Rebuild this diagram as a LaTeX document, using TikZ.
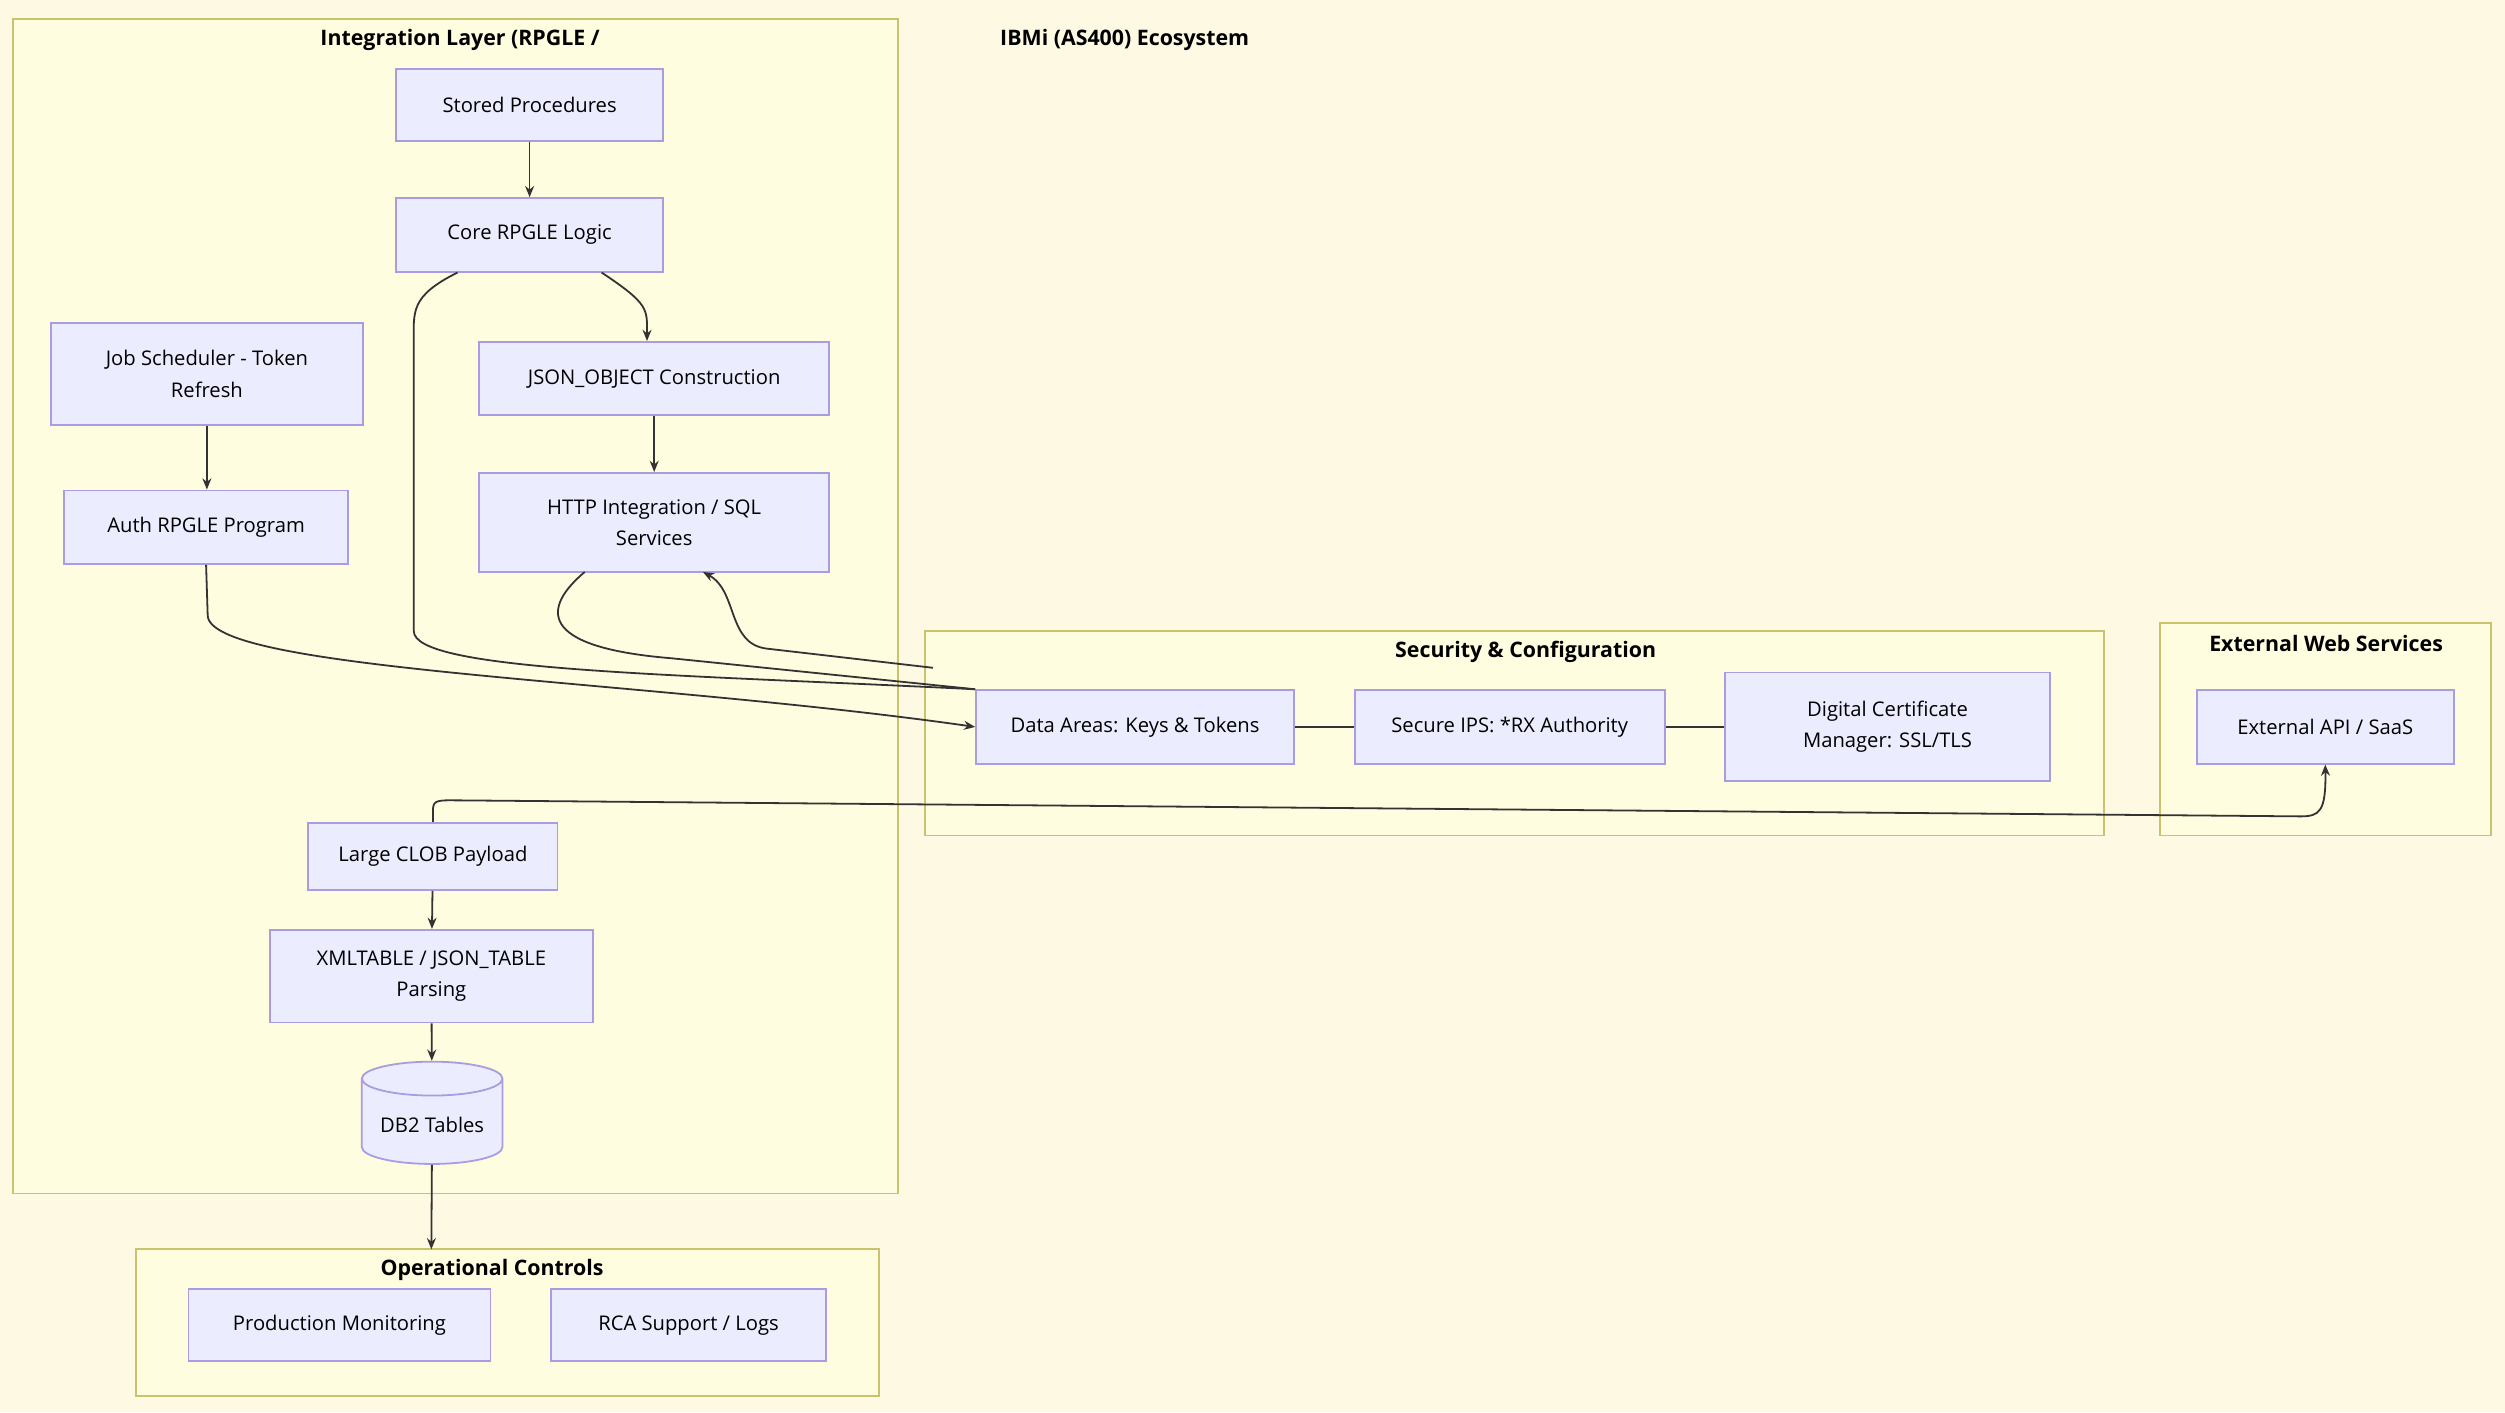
\documentclass[tikz,border=0pt]{standalone}
\usepackage{fontspec}
\setmainfont{Open Sans}
\usetikzlibrary{shapes}
\usetikzlibrary{arrows.meta}

\definecolor{boxfill}{HTML}{ECECFF}
\definecolor{boxline}{HTML}{A99CE0}
\definecolor{clusterfill}{HTML}{FFFDE0}
\definecolor{clusterline}{HTML}{C9C36E}
\definecolor{bgcream}{HTML}{FEF9E3}
\definecolor{edgecol}{HTML}{333333}

\tikzset{
  box/.style={draw=boxline, fill=boxfill, thick, align=center, inner sep=2pt,
    font=\fontsize{9}{14}\selectfont},
  cluster/.style={draw=clusterline, fill=clusterfill, thick},
  ctitle/.style={font=\fontsize{9.5}{12}\selectfont\bfseries},
  flow/.style={draw=edgecol, thick, -{Stealth[length=5pt,width=4pt]}},
  link/.style={draw=edgecol, thick}
}

\begin{document}
\begin{tikzpicture}[x=0.025cm, y=-0.025cm]
\fill [bgcream] (0,0) rectangle (1568,884);
\useasboundingbox (0,0) rectangle (1568,884);
% clusters
\draw [cluster] (8,12) rectangle (562,747);
\draw [cluster] (579,395) rectangle (1317,523);
\draw [cluster] (1352,390) rectangle (1559,523);
\draw [cluster] (85,782) rectangle (550,874);
\node [ctitle] (tint) at (288,25) {Integration Layer (RPGLE /};
\node [ctitle] (teco) at (704,25) {IBMi (AS400) Ecosystem};
\node [ctitle] (tsec) at (955,408) {Security \& Configuration};
\node [ctitle] (text) at (1456,403) {External Web Services};
\node [ctitle] (tops) at (308,795) {Operational Controls};

% integration layer
\node [box, minimum width=4.175cm, minimum height=1.125cm] (stored) at (331.5,65.5) {Stored Procedures};
\node [box, minimum width=4.175cm, minimum height=1.15cm] (core) at (331.5,147) {Core RPGLE Logic};
\node [box, minimum width=5.475cm, minimum height=1.15cm] (json) at (409.5,237) {JSON\_OBJECT Construction};
\node [box, minimum width=5.475cm, minimum height=1.55cm] (http) at (409.5,327) {HTTP Integration / SQL\\Services};
\node [box, minimum width=4.875cm, minimum height=1.6cm] (job) at (129.5,234) {Job Scheduler - Token\\Refresh};
\node [box, minimum width=4.45cm, minimum height=1.15cm] (auth) at (129,330) {Auth RPGLE Program};
\node [box, minimum width=3.9cm, minimum height=1.05cm] (clob) at (271,536) {Large CLOB Payload};
\node [box, minimum width=5.05cm, minimum height=1.45cm] (parse) at (270,611) {XMLTABLE / JSON\_TABLE\\Parsing};
\node [box, cylinder, shape border rotate=90, aspect=0.3, minimum width=2.2cm, minimum height=1.6cm] (db2) at (270.5,704) {DB2 Tables};

% security
\node [box, minimum width=4.975cm, minimum height=1.15cm] (darea) at (710.5,455) {Data Areas: Keys \& Tokens};
\node [box, minimum width=4.85cm, minimum height=1.15cm] (ips) at (945,455) {Secure IPS: *RX Authority};
\node [box, minimum width=5.075cm, minimum height=1.7cm] (dcm) at (1181.5,455) {Digital Certificate\\Manager: SSL/TLS};

% external
\node [box, minimum width=4.025cm, minimum height=1.15cm] (api) at (1455.5,455) {External API / SaaS};

% operations
\node [box, minimum width=4.725cm, minimum height=1.125cm] (mon) at (212.5,829.5) {Production Monitoring};
\node [box, minimum width=4.3cm, minimum height=1.125cm] (rca) at (431,829.5) {RCA Support / Logs};

\coordinate (opstop) at (270,782);

% connectors
\draw [flow] (stored) -- (core);
\draw [flow] (core.south east) ++(-39,0) .. controls +(30,20) and +(0,-20) .. (json.north -| 405,0);
\draw [flow] (json) -- (json |- http.north);
\draw [flow] (job) -- (job |- auth.north);
\draw [flow] (auth.south) -- (130,385) .. controls (130,420) and (400,425) .. (darea.west);
\draw [link] (core.south west) ++(39,0) .. controls +(-30,15) and +(0,-20) .. (259,215) -- (259,395)
  .. controls (259,420) and (420,422) .. (darea.north west);
\draw [link] (366,358) .. controls (340,380) and (335,405) .. (420,412) -- (darea.north west);
\draw [flow] (584,418) -- (480,406) .. controls (455,403) and (462,370) .. (440,358);
\draw [link] (darea) -- (ips);
\draw [link] (ips) -- (dcm);
\draw [flow] (clob.north) -- (271,507) .. controls (271,500) and (275,501) .. (290,501)
  -- (1440,511) .. controls (1452,511) and (1456,508) .. (api.south);
\draw [flow] (clob) -- (parse);
\draw [flow] (parse) -- (db2);
\draw [flow] (db2) -- (opstop);
\end{tikzpicture}
\end{document}
